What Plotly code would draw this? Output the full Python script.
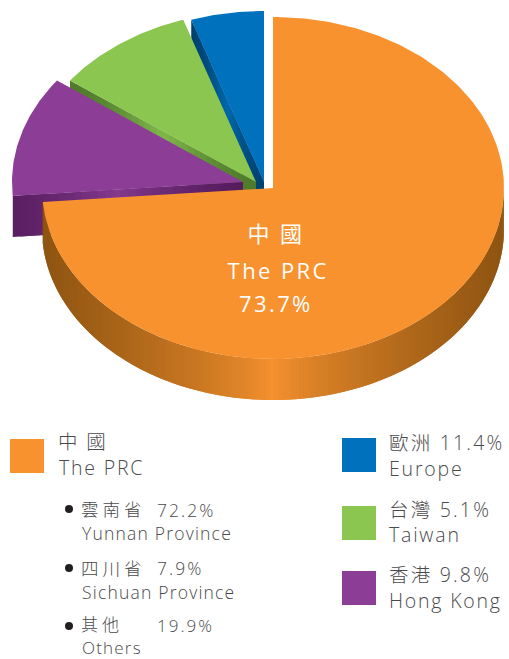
import math
import plotly.graph_objects as go

# ---- data ----
slice_names = ["The PRC", "Purple slice", "Green slice", "Blue slice"]
slice_values = [73.7, 11.4, 9.8, 5.1]
slice_tops = ["#F7922F", "#8C3D96", "#8AC650", "#0071BC"]
slice_dark = ["#8E5411", "#561C5E", "#4F7A2B", "#00426F"]
slice_light = ["#F7922F", "#84398D", "#80B84A", "#0068AC"]
slice_shift = [(0, 0), (-30, -6), (-17, -6), (-9, -6)]

center_labels = [("中 國", 276, 233), ("The PRC", 278, 270), ("73.7%", 276, 303)]
legend_main = [
    ("中 國", 56, 441), ("The PRC", 57, 467),
    ("歐洲 11.4%", 387, 442), ("Europe", 387, 468),
    ("台灣 5.1%", 387, 509), ("Taiwan", 387, 534),
    ("香港 9.8%", 387, 574), ("Hong Kong", 387, 600),
]
legend_sub = [
    ("雲南省", 79, 509, 17.5), ("72.2%", 155, 510, 17.5), ("Yunnan Province", 80, 533, 17.5),
    ("四川省", 79, 568, 17.5), ("7.9%", 155, 568, 17.5), ("Sichuan Province", 80, 592, 17.5),
    ("其他", 79, 624, 17), ("19.9%", 155, 625, 17), ("Others", 80, 647.5, 17),
]
swatches = [("#F7922F", 10, 439), ("#0071BC", 342, 438), ("#8AC650", 342, 506), ("#8C3D96", 342, 571)]
bullet_y = [509, 568, 626]

# ---- geometry of the drawing ----
CX, CY, RX, RY, DEPTH = 273, 188, 231, 171, 41
FONT = "Open Sans, Noto Sans CJK TC, sans-serif"
TEXT = "#4A4A4C"


def pt(a, s):
    r = math.radians(a)
    return CX + s[0] + RX * math.sin(r), CY + s[1] - RY * math.cos(r)


def hex2(c):
    return [int(c[i:i + 2], 16) for i in (1, 3, 5)]


def mix(a, b, t):
    a, b = hex2(a), hex2(b)
    return "rgb(%d,%d,%d)" % tuple(round(a[i] + (b[i] - a[i]) * t) for i in range(3))


fig = go.Figure()


def poly(xs, ys, color):
    fig.add_trace(go.Scatter(x=xs + xs[:1], y=ys + ys[:1], mode="lines", fill="toself",
                             fillcolor=color, line=dict(color=color, width=0),
                             hoverinfo="skip", showlegend=False))


def radial_wall(p0, p1, dark, light, peak, n=30):
    # flat cut face below the edge p0 -> p1; each strip overlaps the next to hide seams
    for k in range(n):
        a, b = k / n, min(1, (k + 2) / n)
        mid = (k + 0.5) / n
        t = 1 - abs(mid - peak) / max(peak, 1 - peak)
        xa, ya = p0[0] + (p1[0] - p0[0]) * a, p0[1] + (p1[1] - p0[1]) * a
        xb, yb = p0[0] + (p1[0] - p0[0]) * b, p0[1] + (p1[1] - p0[1]) * b
        poly([xa, xb, xb, xa], [ya, yb, yb + DEPTH, ya + DEPTH], mix(dark, light, t ** 1.5))


# cumulative angles (clockwise from 12 o'clock)
total = sum(slice_values)
angles = [0]
for v in slice_values:
    angles.append(angles[-1] + v / total * 360)
angles[-1] = 360

# back to front: blue, green, purple, orange
for i in (3, 2, 1):
    s = slice_shift[i]
    apex = (CX + s[0], CY + s[1])
    radial_wall(pt(angles[i], s), apex, slice_dark[i], slice_light[i], 0.5 if i != 1 else 0.45)
    steps = [angles[i] + (angles[i + 1] - angles[i]) * k / 60 for k in range(61)]
    arc = [pt(a, s) for a in steps]
    poly([apex[0]] + [p[0] for p in arc], [apex[1]] + [p[1] for p in arc], slice_tops[i])

# orange outer wall: strips overlap the next one so no seams show
s = slice_shift[0]
n = 170
a0, a1 = 90.0, angles[1]
for k in range(n):
    us = [a0 + (a1 - a0) * min(n, k + j / 4) / n for j in range(0, 9)]
    top = [pt(u, s) for u in us]
    xs = [p[0] for p in top]
    ys = [p[1] for p in top]
    um = a0 + (a1 - a0) * (k + 0.5) / n
    t = min(1, abs(pt(um, s)[0] - CX) / RX) ** 0.75
    col = mix(slice_light[0], slice_dark[0], t)
    poly(xs + xs[::-1], ys + [y + DEPTH for y in ys[::-1]], col)

# orange top
steps = [angles[0] + (angles[1] - angles[0]) * k / 240 for k in range(241)]
arc = [pt(a, s) for a in steps]
poly([CX] + [p[0] for p in arc], [CY] + [p[1] for p in arc], slice_tops[0])

# legend bullets
fig.add_trace(go.Scatter(x=[69] * len(bullet_y), y=bullet_y, mode="markers",
                         marker=dict(size=8, color="#231F20"), hoverinfo="skip", showlegend=False))

shapes = [dict(type="rect", xref="x", yref="y", x0=x, x1=x + 34, y0=y, y1=y + 34,
               fillcolor=c, line=dict(width=0), layer="above") for c, x, y in swatches]

ann = []
for txt, x, y in center_labels:
    ann.append(dict(x=x, y=y, text=txt, xanchor="center", yanchor="middle", showarrow=False,
                    font=dict(family=FONT, size=22, color="#FFFFFF", weight=400)))
for txt, x, y in legend_main:
    ann.append(dict(x=x, y=y, text=txt, xanchor="left", yanchor="middle", align="left", showarrow=False,
                    font=dict(family=FONT, size=19.5, color=TEXT, weight=300)))
for txt, x, y, size in legend_sub:
    ann.append(dict(x=x, y=y, text=txt, xanchor="left", yanchor="middle", align="left", showarrow=False,
                    font=dict(family=FONT, size=size, color=TEXT, weight=300)))

fig.update_layout(
    width=509, height=659, margin=dict(l=0, r=0, t=0, b=0),
    paper_bgcolor="white", plot_bgcolor="white", showlegend=False,
    xaxis=dict(range=[0, 509], visible=False, fixedrange=True),
    yaxis=dict(range=[659, 0], visible=False, fixedrange=True),
    shapes=shapes, annotations=ann,
)
# Widen the letter spacing of the labels, as in the reference.
spacing_js = """
document.body.style.margin='0';
document.querySelectorAll('.annotation-text').forEach(function(t){
  var fs=parseFloat(t.style.fontSize), s=t.textContent, v;
  var cjk=/[^\\x00-\\x7f]/.test(s), dig=/[0-9]/.test(s);
  if(fs>21){ v = 2.4; }
  else if(fs>19){ v = (cjk&&dig) ? 2.2 : 1.8; }
  else { v = (cjk) ? 4 : (dig ? 2 : 1.2); }
  t.style.letterSpacing = v+'px';
});
"""
fig.write_html("out.html", config={"displayModeBar": False}, post_script=spacing_js)
